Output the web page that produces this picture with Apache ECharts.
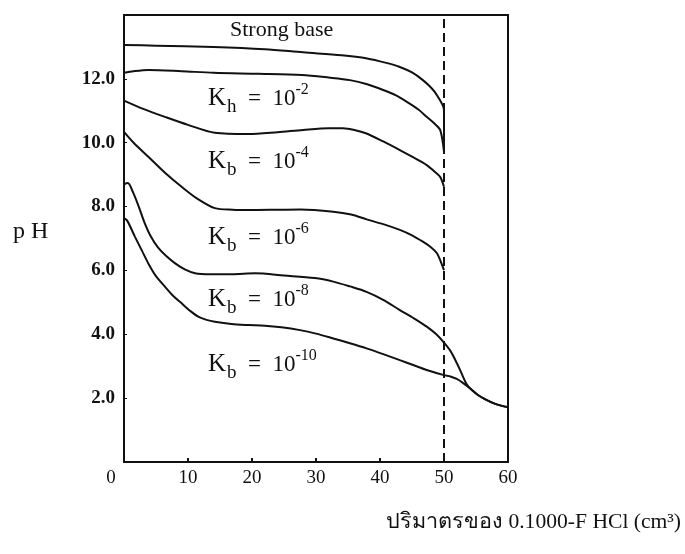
<!DOCTYPE html>
<html>
<head>
<meta charset="utf-8">
<script src="https://cdn.jsdelivr.net/npm/echarts@6/dist/echarts.min.js"></script>
<style>
  html, body { margin: 0; padding: 0; background: #fff; }
  #chart { width: 685px; height: 554px; }
</style>
</head>
<body>
<div id="chart"></div>
<script>
  // titration curves: [volume HCl (cm3), pH]
  var strongBase = [[0, 13.06], [5, 13.04], [14, 13.0], [22, 12.93], [28, 12.83], [34, 12.74], [38, 12.64], [41, 12.5], [43, 12.38], [45, 12.2], [46.7, 11.96], [48, 11.72], [48.9, 11.49], [50, 11.02], [50, 9.8]]
  var kb2 = [[0, 12.19], [1.5, 12.24], [3.8, 12.28], [9, 12.24], [14, 12.19], [21, 12.16], [27.8, 12.12], [32, 12.04], [35.3, 11.96], [38, 11.83], [40.5, 11.65], [42.5, 11.48], [44.2, 11.28], [46, 11.04], [47.3, 10.81], [48.5, 10.6], [49.4, 10.4], [50, 9.72]]
  var kb4 = [[0, 11.32], [3, 11.06], [6.4, 10.81], [10, 10.56], [14.2, 10.31], [19.4, 10.27], [24, 10.33], [28, 10.4], [32, 10.45], [34.2, 10.45], [36, 10.4], [37.9, 10.29], [40.5, 10.04], [43.1, 9.77], [45.3, 9.53], [47.3, 9.3], [48.5, 9.1], [49.4, 8.93], [50, 8.62]]
  var kb6 = [[0, 10.34], [1.5, 10.0], [3.8, 9.56], [6.4, 9.06], [9, 8.62], [11.5, 8.24], [14.2, 7.95], [17, 7.9], [19.4, 7.89], [24, 7.9], [27.6, 7.91], [32.7, 7.84], [35.5, 7.75], [37.9, 7.6], [40.5, 7.45], [43.1, 7.27], [45, 7.1], [46.7, 6.9], [48, 6.72], [48.9, 6.54], [49.6, 6.22], [50, 6.01]]
  var kb8 = [[0, 8.7], [0.6, 8.74], [1.4, 8.45], [2.3, 8.0], [3.2, 7.5], [4.2, 7.06], [5.3, 6.72], [6.6, 6.45], [8, 6.22], [9.5, 6.03], [11.1, 5.91], [13.5, 5.88], [16.8, 5.88], [20.5, 5.91], [25, 5.84], [29.8, 5.76], [32.7, 5.65], [35.3, 5.5], [37.9, 5.33], [40.5, 5.08], [43.1, 4.76], [45.3, 4.5], [47.3, 4.24], [48.8, 4.0], [50, 3.74], [51, 3.48], [52, 3.1], [52.8, 2.75], [53.5, 2.45]]
  var kb10 = [[0, 7.64], [0.5, 7.56], [1.7, 7.06], [2.8, 6.62], [3.8, 6.22], [5, 5.82], [6.4, 5.49], [7.7, 5.2], [9, 4.97], [10.3, 4.74], [11.6, 4.55], [12.9, 4.45], [14.2, 4.39], [16.8, 4.32], [19.4, 4.29], [22, 4.27], [24.6, 4.22], [27.5, 4.13], [30, 4.02], [32.7, 3.87], [35.3, 3.72], [37.9, 3.56], [40.5, 3.38], [43.1, 3.19], [45.3, 3.03], [47.3, 2.88], [50, 2.72], [51, 2.68], [52, 2.6], [53, 2.47]]
  // excess acid, shared by the weak ones after the end point
  var acidTail = [[54.1, 2.3], [55.3, 2.1], [56.7, 1.94], [58, 1.82], [59.2, 1.75], [60, 1.72]]

  var xTicks = [0, 10, 20, 30, 40, 50, 60]
  var yTickLabels = ['', '2.0', '4.0', '6.0', '8.0', '10.0', '12.0', '']
  var equivPoint = 50

  var curveNames = ['Strong base', 'Kb 1e-2', 'Kb 1e-4', 'Kb 1e-6', 'Kb 1e-8', 'Kb 1e-10']
  var curveData = [strongBase, kb2, kb4, kb6, kb8.concat(acidTail), kb10.concat(acidTail)]

  // label text beside each curve
  var kSub = ['h', 'b', 'b', 'b', 'b']
  var kExp = ['-2', '-4', '-6', '-8', '-10']
  var kTop = [100, 163, 239, 301, 366]

  var serif = "'Liberation Serif', 'DejaVu Serif', serif"

  var chart = echarts.init(document.getElementById('chart'), null, { renderer: 'canvas' })

  var series = curveData.map(function (d, i) {
    var s = {
      name: curveNames[i],
      type: 'line',
      data: d,
      symbol: 'none',
      smooth: 0.3,
      lineStyle: { color: '#111', width: 2 },
      z: 3
    }
    if (i === 0) {
      s.markLine = {
        silent: true,
        symbol: 'none',
        label: { show: false },
        lineStyle: { color: '#111', type: [9, 5], width: 2 },
        data: [{ xAxis: equivPoint }]
      }
    }
    return s
  })

  var labels = kExp.map(function (e, i) {
    return {
      type: 'text',
      left: 208,
      top: kTop[i] - 18,
      style: {
        text: '{k|K}{s|' + kSub[i] + '}{q|  =  10}{p|' + e + '}',
        rich: {
          k: { fontFamily: serif, fontSize: 25, fill: '#111' },
          s: { fontFamily: serif, fontSize: 19, fill: '#111', padding: [17, 0, 0, 1] },
          q: { fontFamily: serif, fontSize: 23, fill: '#111' },
          p: { fontFamily: serif, fontSize: 16, fill: '#111', padding: [0, 0, 17, 0] }
        }
      }
    }
  })

  var options = {
    backgroundColor: '#fff',
    animation: false,
    grid: {
      left: 124,
      right: 177,
      top: 15,
      bottom: 92,
      show: true,
      borderColor: '#111',
      borderWidth: 2
    },
    xAxis: {
      type: 'value',
      min: 0,
      max: 60,
      interval: 10,
      axisLine: { lineStyle: { color: '#111', width: 2 } },
      axisTick: { inside: true, length: 4, lineStyle: { color: '#111', width: 2 } },
      splitLine: { show: false },
      axisLabel: {
        margin: 7,
        color: '#111',
        fontFamily: serif,
        fontSize: 19,
        formatter: function (v) {
          if (v === 0) return '{o|0}'
          return xTicks.indexOf(v) >= 0 ? String(v) : ''
        },
        rich: {
          o: { fontFamily: serif, fontSize: 19, color: '#111', padding: [0, 26, 0, 0] }
        }
      }
    },
    yAxis: {
      type: 'value',
      min: 0,
      max: 14,
      interval: 2,
      axisLine: { lineStyle: { color: '#111', width: 2 } },
      axisTick: { inside: true, length: 3, lineStyle: { color: '#111', width: 1 } },
      splitLine: { show: false },
      axisLabel: {
        margin: 9,
        color: '#111',
        fontFamily: serif,
        fontWeight: 'bold',
        fontSize: 19,
        formatter: function (v) { return yTickLabels[Math.round(v / 2)] || '' }
      }
    },
    graphic: labels.concat([
      {
        type: 'text',
        left: 230,
        top: 19,
        style: { text: 'Strong base', font: '22px ' + serif, fill: '#111' }
      },
      {
        type: 'text',
        left: 13,
        top: 220,
        style: { text: 'p H', font: '24px ' + serif, fill: '#111' }
      },
      {
        type: 'text',
        left: 386,
        top: 511,
        style: {
          text: 'ปริมาตรของ 0.1000-F HCl (cm³)',
          font: '21.6px ' + serif,
          fill: '#111'
        }
      }
    ]),
    series: series
  }
  chart.setOption(options)
</script>
</body>
</html>
